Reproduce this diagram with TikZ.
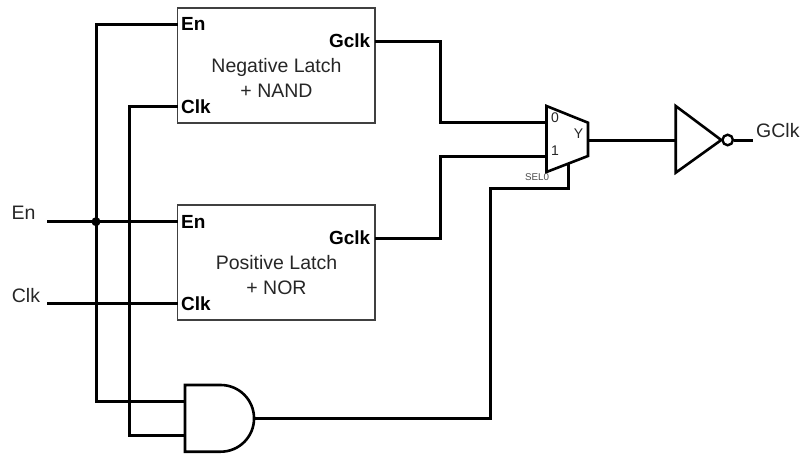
\documentclass[tikz,border=0pt]{standalone}
\usepackage{fontspec}
\setmainfont{Liberation Sans}
\tikzset{
	latch/.style={rectangle,draw=black!75,line width=1.5pt,inner sep=0pt,minimum width=197.5pt,minimum height=115pt},
	wire/.style={line width=3pt,line join=miter},
	gate/.style={line width=2.6pt,line join=miter},
	caption/.style={font=\fontsize{19.5}{25}\selectfont,text=black!85,align=center,inner sep=0pt},
	portl/.style={font=\fontsize{19}{23}\selectfont\bfseries,inner sep=3.5pt,anchor=west},
	portr/.style={font=\fontsize{19}{23}\selectfont\bfseries,inner sep=4.5pt,anchor=east},
	small/.style={font=\fontsize{14}{16}\selectfont,text=black!85,inner sep=0pt}
}
\begin{document}
\begin{tikzpicture}[x=1pt,y=-1pt]
		\useasboundingbox (0,0) rectangle (804,455);

		%latches
		\node[latch] (b1) at (276.25,65.5) {};
		\node[latch] (b2) at (276.25,262.5) {};
		\node[caption] (c1) at (276.5,77.5) {Negative Latch\\+ NAND};
		\node[caption] (c2) at (276.5,275) {Positive Latch\\+ NOR};

		%latch ports
		\node[portl] (en1) at (177.5,24) {En};
		\node[portl] (clk1) at (177.5,106.5) {Clk};
		\node[portr] (g1) at (375,41) {Gclk};
		\node[portl] (en2) at (177.5,221.7) {En};
		\node[portl] (clk2) at (177.5,303.7) {Clk};
		\node[portr] (g2) at (375,238) {Gclk};

		%inputs
		\node[caption] (tEn) at (23.5,213) {En};
		\node[caption] (tClk) at (26,295.5) {Clk};
		\coordinate (iEn) at (47,221.7);
		\coordinate (iClk) at (47,303.7);
		\node[circle,fill=black,inner sep=0pt,minimum size=9pt] (d1) at (96,221.7) {};

		%and gate
		\draw[gate] (185,385) -- (220.7,385) arc (-90:90:33.35) -- (185,451.7) -- cycle;
		\coordinate (a1) at (185,401.7);
		\coordinate (a2) at (185,435);
		\coordinate (a3) at (254,418.5);

		%mux
		\draw[gate] (546.5,106) -- (588,122.7) -- (588,156) -- (546.5,172) -- cycle;
		\coordinate (m0) at (546.5,122.7);
		\coordinate (m1) at (546.5,156);
		\coordinate (my) at (588,140);
		\coordinate (ms) at (568,164);
		\node[small] (t0) at (555,118) {0};
		\node[small] (t1) at (555,151) {1};
		\node[small] (tY) at (578.5,134) {Y};
		\node[small,font=\fontsize{9.8}{11}\selectfont,text=black!70] (tS) at (537,177) {SEL0};

		%inverter
		\node[circle,draw,line width=2.4pt,inner sep=0pt,minimum size=10.5pt] (inv) at (727.7,140) {};
		\draw[gate] (675.7,106) -- (inv.west) -- (675.7,172.7) -- cycle;
		\coordinate (i1) at (675.7,140);
		\coordinate (o1) at (753,140);
		\node[caption,anchor=west] (tG) at (756,131) {GClk};

		%edges
		\draw[wire] (iEn) -- (en2.west);
		\draw[wire] (iClk) -- (clk2.west);
		\draw[wire] (en1.west) -| (d1.center) |- (a1);
		\draw[wire] (clk1.west) -| (129,435) -- (a2);
		\draw[wire] (g1.east) -| (440,122.7) -- (m0);
		\draw[wire] (g2.east) -| (440,156) -- (m1);
		\draw[wire] (a3) -| (490,188) -| (ms);
		\draw[wire] (my) -- (i1);
		\draw[wire] (inv) -- (o1);
		\end{tikzpicture}
\end{document}
